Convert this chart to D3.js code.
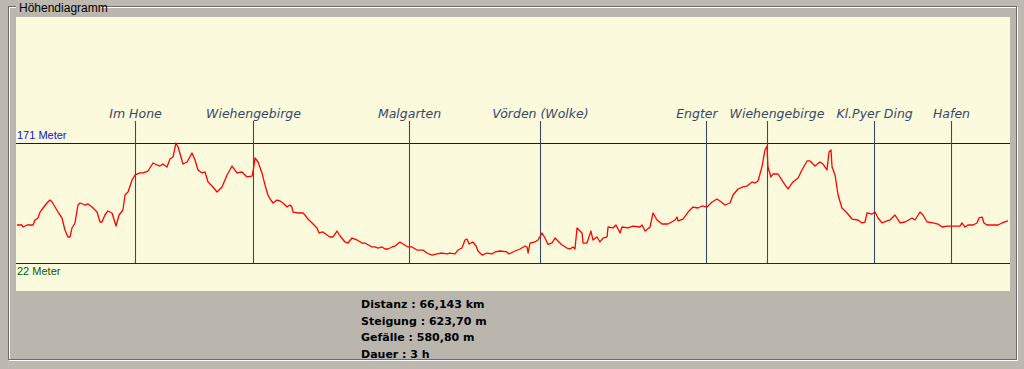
<!DOCTYPE html>
<html>
<head>
<meta charset="utf-8">
<script src="https://cdn.jsdelivr.net/npm/d3@7"></script>
<style>
  html, body { margin: 0; padding: 0; background: #bdb9b1; }
  svg { display: block; }
</style>
</head>
<body>
<svg id="chart" width="1024" height="369"></svg>
<script>
// Strecke (km) und Höhe (m) des Profils
const distance = [
  0, 0.33, 0.40, 0.67, 1.07, 1.20, 1.40, 1.54, 1.74, 2.00, 2.20, 2.34, 2.54, 2.74, 3.00, 3.20, 3.40, 3.54, 3.67, 3.87,
  4.07, 4.21, 4.54, 4.74, 5.01, 5.34, 5.54, 5.67, 5.87, 6.07, 6.34, 6.61, 6.81, 7.07, 7.21, 7.41, 7.68, 7.88, 8.21, 8.41,
  8.74, 9.08, 9.34, 9.54, 9.74, 10.01, 10.21, 10.41, 10.61, 10.75, 11.08, 11.35, 11.68, 11.88, 12.08, 12.35, 12.55, 12.75, 13.08, 13.35,
  13.68, 14.02, 14.35, 14.68, 15.02, 15.35, 15.68, 15.75, 15.89, 16.09, 16.35, 16.55, 16.75, 16.89, 17.09, 17.35, 17.55, 17.75, 18.02, 18.22,
  18.35, 18.42, 18.75, 19.09, 19.22, 19.42, 19.76, 20.02, 20.16, 20.42, 20.69, 20.89, 21.09, 21.36, 21.56, 21.89, 22.09, 22.36, 22.69, 23.03,
  23.23, 23.69, 23.89, 24.10, 24.36, 24.56, 24.76, 25.03, 25.23, 25.56, 25.76, 26.10, 26.36, 26.70, 27.10, 27.36, 27.70, 28.03, 28.37, 28.70,
  28.90, 29.23, 29.43, 29.70, 29.90, 30.03, 30.17, 30.43, 30.64, 30.77, 31.04, 31.37, 31.70, 31.90, 32.24, 32.70, 32.84, 33.24, 33.57, 33.91,
  34.04, 34.11, 34.24, 34.57, 34.77, 35.04, 35.24, 35.44, 35.71, 35.91, 36.24, 36.38, 36.71, 36.91, 37.11, 37.24, 37.38, 37.71, 37.78, 38.04,
  38.31, 38.44, 38.71, 38.91, 39.11, 39.38, 39.45, 39.78, 39.98, 40.25, 40.38, 40.78, 41.11, 41.58, 41.72, 41.92, 42.25, 42.45, 42.72, 43.05,
  43.45, 43.92, 44.05, 44.12, 44.45, 44.79, 45.12, 45.45, 45.72, 46.05, 46.39, 46.72, 46.92, 47.25, 47.59, 47.79, 48.12, 48.46, 48.72, 49.06,
  49.26, 49.46, 49.72, 49.92, 50.06, 50.12, 50.32, 50.46, 50.79, 51.26, 51.46, 51.79, 52.13, 52.39, 52.73, 52.93, 53.26, 53.59, 53.80, 54.06,
  54.20, 54.33, 54.40, 54.60, 54.80, 55.06, 55.40, 55.73, 56.13, 56.40, 56.60, 56.73, 57.07, 57.27, 57.47, 57.73, 58.07, 58.27, 58.60, 58.94,
  59.27, 59.74, 59.94, 60.27, 60.47, 60.74, 61.14, 61.47, 61.74, 62.07, 62.94, 63.07, 63.27, 63.47, 63.81, 64.07, 64.21, 64.41, 64.54, 64.74,
  65.48, 65.74, 66.14
];
const elevation = [
  69.2, 69.2, 66.7, 69.2, 69.2, 75.4, 77.9, 85.3, 90.3, 96.5, 100.2, 97.7, 91.5, 85.3, 77.9, 63.0, 54.3, 54.3, 65.5, 71.7,
  94.0, 96.5, 94.0, 95.3, 91.5, 85.3, 72.9, 72.9, 81.6, 86.6, 84.1, 67.9, 81.6, 87.8, 106.4, 110.2, 125.1, 131.3, 133.8, 133.8,
  136.2, 146.2, 143.7, 142.4, 144.9, 141.2, 151.1, 153.6, 171.0, 166.0, 144.9, 147.4, 158.6, 149.9, 137.5, 133.8, 135.0, 122.6, 116.4, 110.2,
  116.4, 131.3, 142.4, 133.8, 135.0, 128.8, 130.0, 135.0, 152.4, 147.4, 133.8, 118.9, 106.4, 101.5, 96.5, 100.2, 99.0, 96.5, 91.5, 94.0,
  91.5, 85.3, 84.1, 84.1, 81.6, 76.6, 70.4, 65.5, 59.3, 60.5, 56.8, 54.3, 54.3, 61.7, 55.5, 48.1, 46.8, 53.0, 50.6, 46.8,
  46.8, 41.9, 41.9, 40.6, 41.9, 39.4, 39.4, 41.9, 43.1, 48.1, 45.6, 41.9, 41.9, 38.1, 38.1, 34.4, 31.9, 33.2, 34.4, 33.2,
  34.4, 33.2, 38.1, 40.6, 50.6, 51.8, 45.6, 48.1, 43.1, 36.9, 31.9, 34.4, 33.2, 35.7, 36.9, 35.7, 33.2, 36.9, 39.4, 43.1,
  41.9, 34.4, 46.8, 48.1, 50.6, 59.3, 53.0, 45.0, 47.0, 53.0, 46.8, 44.4, 40.6, 39.4, 41.9, 39.4, 65.5, 59.3, 46.8, 46.8,
  61.7, 50.6, 54.3, 48.1, 53.0, 54.3, 66.7, 65.5, 69.2, 59.3, 66.7, 65.5, 67.9, 66.7, 69.2, 61.7, 66.7, 84.1, 75.4, 70.4,
  70.4, 75.4, 79.1, 74.2, 76.6, 85.3, 91.5, 90.3, 92.8, 91.5, 97.7, 101.5, 99.0, 94.0, 96.5, 106.4, 113.9, 116.4, 117.6, 122.6,
  121.3, 123.8, 141.2, 162.3, 167.3, 141.2, 128.8, 132.5, 132.5, 118.9, 113.9, 122.6, 127.5, 137.5, 148.7, 148.7, 142.4, 147.4, 144.9, 137.5,
  159.8, 162.3, 141.2, 131.3, 106.4, 90.3, 84.1, 76.6, 75.4, 71.7, 72.9, 84.1, 82.8, 85.3, 77.9, 71.7, 74.2, 75.4, 81.6, 71.7,
  72.9, 77.9, 75.4, 85.3, 81.6, 72.9, 71.7, 70.4, 66.7, 67.9, 67.9, 71.7, 66.7, 69.2, 69.2, 71.7, 77.9, 79.1, 71.7, 69.2,
  69.2, 71.7, 74.2
];

// Wegpunkte
const placeNames = ["Im Hone", "Wiehengebirge", "Malgarten", "Vörden (Wolke)", "Engter", "Wiehengebirge", "Kl.Pyer Ding", "Hafen"];
const placeKm = [7.88, 15.75, 26.16, 34.91, 45.99, 50.06, 57.20, 62.34];

// Höhenlinien (max / min)
const heightTicks = [171, 22];
const heightLabels = ["171 Meter", "22 Meter"];

const summaryLines = ["Distanz : 66,143 km", "Steigung : 623,70 m", "Gefälle : 580,80 m", "Dauer : 3 h"];

const totalKm = 66.143;

const svg = d3.select("#chart");

// Gruppenrahmen
svg.append("rect")
    .attr("x", 9.5).attr("y", 7.5)
    .attr("width", 1008).attr("height", 353)
    .attr("fill", "#bab6ae")
    .attr("stroke", "#ffffff");
svg.append("rect")
    .attr("x", 8.5).attr("y", 6.5)
    .attr("width", 1008).attr("height", 353)
    .attr("fill", "none")
    .attr("stroke", "#6e6b66");

// Titel des Rahmens
svg.append("rect")
    .attr("x", 16).attr("y", 0)
    .attr("width", 85).attr("height", 13)
    .attr("fill", "#bdb9b1");
svg.append("text")
    .attr("x", 19).attr("y", 12)
    .style("font-family", "'Liberation Sans', Arial, sans-serif")
    .style("font-size", "12px")
    .attr("fill", "#000")
    .text("Höhendiagramm");

// Zeichenfläche
const panel = { left: 16, top: 17, right: 1010, bottom: 291 };
svg.append("rect")
    .attr("x", panel.left).attr("y", panel.top)
    .attr("width", panel.right - panel.left)
    .attr("height", panel.bottom - panel.top)
    .attr("fill", "#fbfadc");

const x = d3.scaleLinear().domain([0, totalKm]).range([17, 1008]);
const y = d3.scaleLinear().domain([22, 171]).range([263, 143]);

// Höhenlinien und Beschriftung
const tickColors = ["#0a0ab4", "#0c3c0c"];
const labelColors = ["#1010e0", "#0c5a0c"];
svg.selectAll(".heightLine")
    .data(heightTicks)
    .enter()
    .append("line")
    .attr("class", "heightLine")
    .attr("x1", panel.left).attr("x2", panel.right)
    .attr("y1", d => Math.round(y(d)) + 0.5)
    .attr("y2", d => Math.round(y(d)) + 0.5)
    .attr("stroke", (d, i) => tickColors[i])
    .attr("stroke-width", 1.2);

svg.selectAll(".heightLabel")
    .data(heightTicks)
    .enter()
    .append("text")
    .attr("class", "heightLabel")
    .attr("x", 17)
    .attr("y", (d, i) => i == 0 ? y(d) - 4 : y(d) + 12)
    .style("font-family", "'Liberation Sans', Arial, sans-serif")
    .style("font-size", "11px")
    .attr("fill", (d, i) => labelColors[i])
    .text((d, i) => heightLabels[i]);

// Wegpunkte: senkrechte Linien und Namen
const places = placeNames.map((name, i) => ({ name: name, km: placeKm[i] }));
const marks = svg.selectAll(".place")
    .data(places)
    .enter()
    .append("g")
    .attr("class", "place")
    .attr("transform", d => `translate(${Math.round(x(d.km)) + 0.5},0)`);

marks.append("line")
    .attr("y1", 121).attr("y2", y(22))
    .attr("stroke", "#3b4a6b")
    .attr("stroke-width", 1.1);

const names = marks.append("text")
    .attr("y", 118)
    .attr("text-anchor", "middle")
    .style("font-family", "'DejaVu Sans', sans-serif")
    .style("font-style", "italic")
    .style("font-size", "12.5px")
    .attr("fill", "#3a4868")
    .text(d => d.name);

// Namen die sich überlappen auseinanderschieben
const gap = 12;
const boxes = names.nodes().map((node, i) => {
    const w = node.getComputedTextLength();
    const cx = x(places[i].km);
    return { node: node, cx: cx, w: w, shift: 0 };
});
for (let i = 1; i < boxes.length; i++) {
    const a = boxes[i - 1], b = boxes[i];
    const overlap = (a.cx + a.shift + a.w / 2 + gap) - (b.cx + b.shift - b.w / 2);
    if (overlap > 0) {
        a.shift -= overlap / 2;
        b.shift += overlap / 2;
    }
}
boxes.forEach(b => d3.select(b.node).attr("x", b.shift));

// Höhenprofil
const profile = distance.map((d, i) => ({ km: d, m: elevation[i] }));
const line = d3.line()
    .x(d => x(d.km))
    .y(d => y(d.m));

svg.append("path")
    .datum(profile)
    .attr("d", line)
    .attr("fill", "none")
    .attr("stroke", "#ff0000")
    .attr("stroke-width", 1.3)
    .attr("stroke-linejoin", "round");

// Zusammenfassung
svg.selectAll(".summary")
    .data(summaryLines)
    .enter()
    .append("text")
    .attr("class", "summary")
    .attr("x", 361)
    .attr("y", (d, i) => 308 + i * 16.7)
    .style("font-family", "'DejaVu Sans', sans-serif")
    .style("font-weight", "bold")
    .style("font-size", "11px")
    .attr("fill", "#000")
    .text(d => d);
</script>
</body>
</html>
